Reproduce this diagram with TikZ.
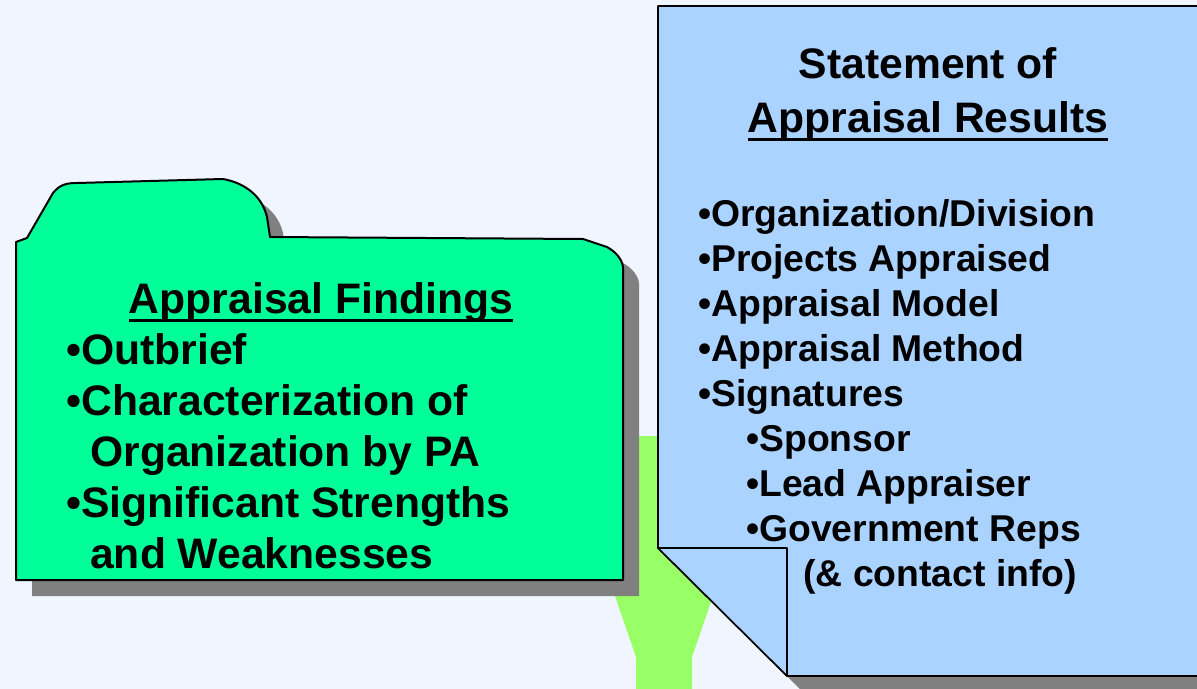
\documentclass[tikz,border=0pt]{standalone}
\usepackage{fontspec}
\setmainfont{Liberation Sans}

\definecolor{paper}{RGB}{240,245,255}
\definecolor{folder}{RGB}{0,255,153}
\definecolor{sheet}{RGB}{170,212,255}
\definecolor{funnel}{RGB}{153,255,102}
\definecolor{shadowgrey}{RGB}{128,128,128}

% heading with a heavy underline
\newsavebox{\headbox}
\newcommand{\heading}[1]{\sbox{\headbox}{#1}\rlap{\raisebox{-6.8pt}{\rule{\wd\headbox}{2.4pt}}}\usebox{\headbox}}

\begin{document}
\begin{tikzpicture}[x=0.75pt,y=-0.75pt,
  line/.style={font=\fontsize{28}{34}\selectfont\bfseries,anchor=base west,inner sep=0pt},
  big/.style={line,font=\fontsize{32}{38}\selectfont\bfseries},
  head/.style={big,anchor=base},
  outline/.style={draw=black,line width=1.5pt,line join=round}]

  \fill[paper] (0,0) rectangle (1197,689);
  \clip (0,0) rectangle (1197,689);

  % funnel behind both sheets
  \fill[funnel] (560,436) -- (768,436) -- (692,657) -- (692,700) -- (636,700) -- (636,657) -- cycle;

  % folder and its shadow
  \fill[shadowgrey,shift={(16,16)}] (16,580) -- (16,242) -- (27,238) -- (53,193) .. controls (60,184) and (68,183) .. (77,183) -- (223,179) .. controls (245,183) and (262,196) .. (267,217) -- (270,237) -- (583,239) -- (607,247) .. controls (618,253) and (623,262) .. (623,268) -- (623,580) -- cycle;
  \filldraw[fill=folder,outline] (16,580) -- (16,242) -- (27,238) -- (53,193) .. controls (60,184) and (68,183) .. (77,183) -- (223,179) .. controls (245,183) and (262,196) .. (267,217) -- (270,237) -- (583,239) -- (607,247) .. controls (618,253) and (623,262) .. (623,268) -- (623,580) -- cycle;

  % sheet with turned corner
  \fill[shadowgrey,shift={(16,16)}] (658,6) -- (1210,6) -- (1210,676) -- (787,676) -- (658,548) -- cycle;
  \filldraw[fill=sheet,outline,line width=1.2pt] (658,6) -- (1210,6) -- (1210,676) -- (787,676) -- (658,548) -- cycle;
  \filldraw[fill=sheet,outline,line width=1.2pt] (658,548) -- (787,548) -- (787,676) -- cycle;

  % findings
  \node[head] (find) at (321,313) {\heading{Appraisal Findings}};
  \node[big] (f1) at (66,364) {•Outbrief};
  \node[big] (f2) at (66,415) {•Characterization of};
  \node[big] (f3) at (90,466) {Organization by PA};
  \node[big] (f4) at (66,517) {•Significant Strengths};
  \node[big] (f5) at (90,568) {and Weaknesses};

  % statement
  \node[head] (stmt) at (928,78) {Statement of};
  \node[head] (res) at (928,132) {\heading{Appraisal Results}};
  \node[line] (s1) at (698,226) {•Organization/Division};
  \node[line] (s2) at (698,271) {•Projects Appraised};
  \node[line] (s3) at (698,316) {•Appraisal Model};
  \node[line] (s4) at (698,361) {•Appraisal Method};
  \node[line] (s5) at (698,406) {•Signatures};
  \node[line] (s6) at (746,451) {•Sponsor};
  \node[line] (s7) at (746,496) {•Lead Appraiser};
  \node[line] (s8) at (746,541) {•Government Reps};
  \node[line] (s9) at (803,586) {(\& contact info)};
\end{tikzpicture}
\end{document}
